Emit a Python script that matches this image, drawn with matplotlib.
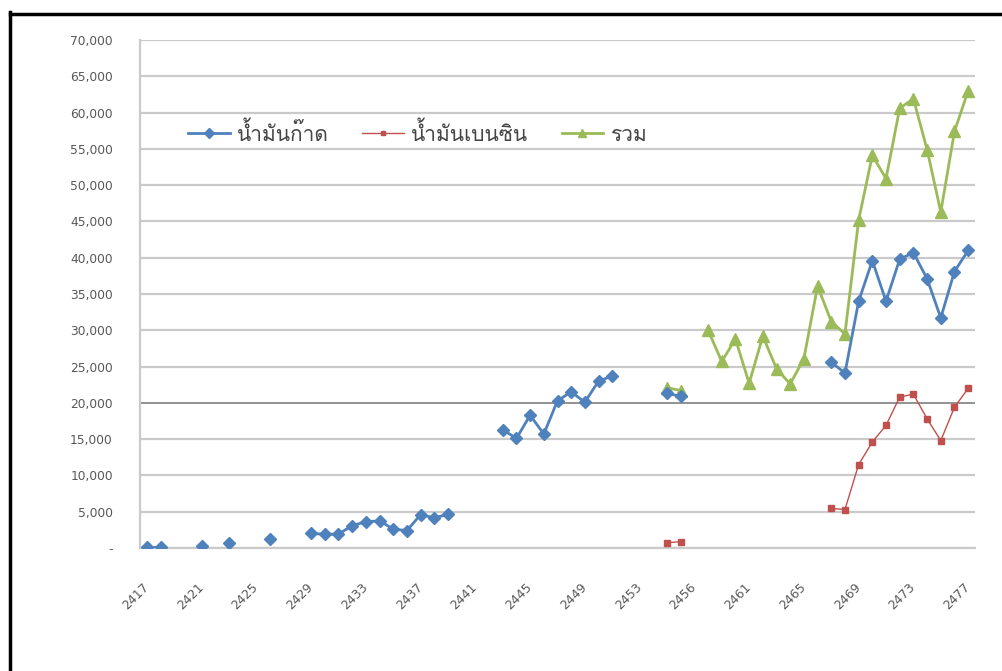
import numpy as np
import matplotlib
matplotlib.use("Agg")
import matplotlib.pyplot as plt
from matplotlib import font_manager
from matplotlib.ft2font import FT2Font
from matplotlib.ticker import FuncFormatter

# ---------------- data ----------------
years = [str(y) for y in range(2417, 2454)] + \
        ["2454", "2455", "2455", "2456", "2457", "2458", "2460"] + \
        [str(y) for y in range(2461, 2478)]

kerosene = [80, 80, None, None, 300, None, 700, None, None, 1300,
            None, None, 2000, 1900, 1900, 3100, 3600, 3750, 2600, 2400,
            4600, 4150, 4650, None, None, None, 16300, 15100, 18300, 15700,
            20300, 21500, 20100, 23000, 23700, None, None, None, 21300, 20900] + \
           [None] * 10 + \
           [25600, 24100, 34000, 39600, 34000, 39800, 40700, 37100, 31700, 38100, 41000]

benzine = [None] * 38 + [750, 850] + [None] * 10 + \
          [5450, 5300, 11500, 14600, 16900, 20800, 21200, 17800, 14800, 19400, 22000]

total = [None] * 38 + [22100, 21700, None] + \
        [30000, 25700, 28800, 22700, 29200, 24700, 22600, 26100, 36100] + \
        [31200, 29500, 45200, 54100, 50900, 60600, 61900, 54900, 46300, 57400, 63000]

series_names = ["น้ำมันก๊าด", "น้ำมันเบนซิน", "รวม"]
tick_every = 4
yticks = list(range(0, 70001, 5000))

# ---------------- fonts ----------------
thai_fonts = []
seen = set()
for fe in font_manager.fontManager.ttflist:
    if fe.name in seen:
        continue
    try:
        cmap = FT2Font(fe.fname).get_charmap()
    except Exception:
        continue
    if 0x0E19 in cmap and 0x0E49 in cmap:
        thai_fonts.append(fe.name)
        seen.add(fe.name)
preferred = [f for f in ["Loma", "Garuda", "Tlwg Typo"] if f in thai_fonts]
thai_family = preferred + [f for f in thai_fonts if f not in preferred] + ["DejaVu Sans"]

# ---------------- figure ----------------
W, H = 1003, 671
fig = plt.figure(figsize=(W / 100, H / 100), dpi=100)
ax = fig.add_axes([140 / W, 1 - 548 / H, (975 - 140) / W, (548 - 40) / H])

x = np.arange(len(years))
def arr(v):
    return np.array([np.nan if a is None else a for a in v], dtype=float)

ax.plot(x, arr(kerosene), color="#4F81BD", lw=2.0, marker="D", ms=6.5,
        label=series_names[0], zorder=4)
ax.plot(x, arr(benzine), color="#C0504D", lw=1.0, marker="s", ms=4,
        label=series_names[1], zorder=4)
ax.plot(x, arr(total), color="#9BBB59", lw=2.0, marker="^", ms=8,
        label=series_names[2], zorder=3)

ax.set_xlim(-0.5, len(years) - 0.5)
ax.set_ylim(0, 70000)
ax.set_yticks(yticks)
ax.yaxis.set_major_formatter(FuncFormatter(lambda v, p: "-" if v == 0 else f"{int(v):,}"))
ax.grid(axis="y", color="#CACACA", lw=1.6)
for gl, v in zip(ax.get_ygridlines(), yticks):
    if v == 20000:
        gl.set_color("#7F7F7F")
        gl.set_linewidth(1.2)
ax.set_axisbelow(True)
for s in ["top", "right"]:
    ax.spines[s].set_visible(False)
ax.spines["left"].set_color("#CACACA")
ax.spines["left"].set_linewidth(1.6)
ax.spines["bottom"].set_color("#CACACA")
ax.spines["bottom"].set_linewidth(1.6)
ax.tick_params(axis="y", length=0, pad=19.5, labelsize=8.8, labelcolor="#585858")

tick_pos = x[::tick_every]
ax.set_xticks(tick_pos)
ax.set_xticklabels([years[i] for i in tick_pos], rotation=45, ha="right",
                   va="center", rotation_mode="anchor")
ax.tick_params(axis="x", length=0, pad=27, labelsize=9, labelcolor="#585858")

leg = ax.legend(loc="center left", bbox_to_anchor=(0.0575, 0.817), ncol=3, frameon=False,
                prop={"family": thai_family, "size": 15}, handlelength=2.0,
                columnspacing=1.6, handletextpad=0.35, borderpad=0, borderaxespad=0,
                labelcolor="#454545", markerscale=0.8)

# frame lines (left and top)
fig.add_artist(plt.Line2D([10 / W, 10 / W], [0, 1 - 12 / H], color="black", lw=2.5,
                          transform=fig.transFigure))
fig.add_artist(plt.Line2D([10 / W, 1], [1 - 14 / H, 1 - 14 / H], color="black", lw=2.5,
                          transform=fig.transFigure))

fig.savefig("out.png", dpi=100)
